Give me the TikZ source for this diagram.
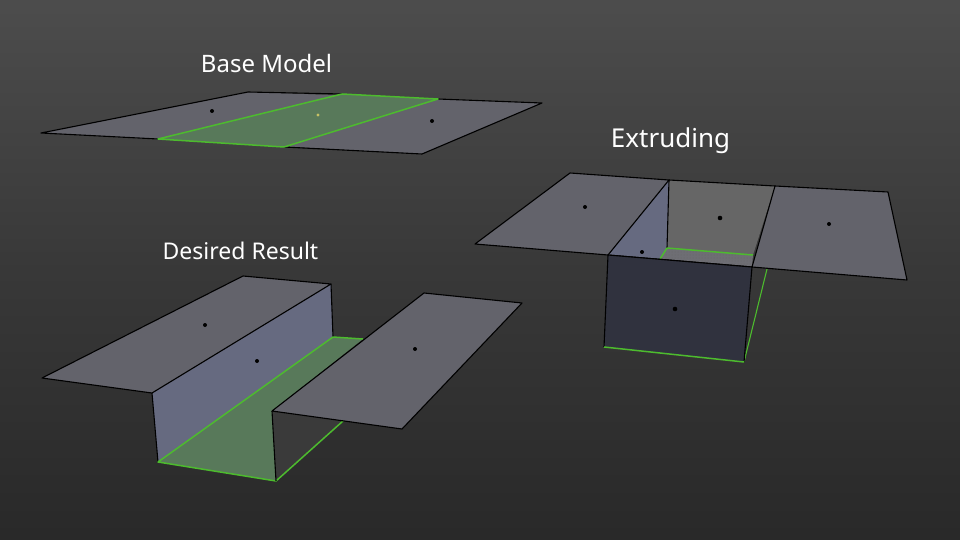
\documentclass[tikz,border=0pt]{standalone}
\usepackage{fontspec}
\setmainfont{Noto Sans}
\usepackage{xcolor}
\usetikzlibrary{patterns}
\definecolor{plategray}{HTML}{63636B}
\definecolor{wallblue}{HTML}{666A80}
\definecolor{wallgray}{HTML}{666666}
\definecolor{walldark}{HTML}{30323E}
\definecolor{wallback}{HTML}{3A3A3A}
\definecolor{floorgreen}{HTML}{58795A}
\definecolor{edgegreen}{HTML}{4DBB2E}
\definecolor{stipplegray}{HTML}{6E6E74}
\tikzset{
    face/.style={draw=black, line width=1.1pt, line join=round},
    greenedge/.style={draw=edgegreen, line width=1.5pt, line join=round},
    dot/.style={fill=black, circle, inner sep=0pt, minimum size=4pt},
    caption/.style={text=white, font=\fontsize{24}{27}\selectfont, inner sep=0pt}
}
\begin{document}
\begin{tikzpicture}[x=1pt, y=-1pt]
\useasboundingbox (0,0) rectangle (960,540);
\shade[top color=black!70, bottom color=black!84, middle color=black!78] (0,0) rectangle (960,540);

% base model
\fill[plategray] (41,133) -- (248,92) -- (542,103) -- (422,154) -- cycle;
\draw[face] (158,139) -- (41,133) -- (248,92) -- (342,94);
\draw[face] (438,99) -- (542,103) -- (422,154) -- (284,147);
\fill[floorgreen] (158,139) -- (342,94) -- (438,99) -- (284,147) -- cycle;
\draw[greenedge] (158,139) -- (342,94) -- (438,99) -- (284,147) -- cycle;
\node[dot] at (212,111) {};
\node[dot, fill=yellow!50!gray, minimum size=3.2pt] at (318,115) {};
\node[dot] at (432,121) {};
\node[caption] (basemodel) at (266.5,64) {Base Model};

% desired result
\fill[wallback] (272,411) -- (276,481) -- (343,421) -- cycle;
\fill[floorgreen] (158,462) -- (333,337) -- (363,339) -- (272,411) -- (276,481) -- cycle;
\fill[wallblue] (152,393) -- (331,284) -- (333,337) -- (158,462) -- cycle;
\draw[face, fill=plategray] (42,378) -- (243,276) -- (331,284) -- (152,393) -- cycle;
\draw[face] (152,393) -- (158,462);
\draw[face] (331,284) -- (333,337);
\draw[greenedge] (363,339) -- (333,337) -- (158,462) -- (276,481) -- (343,421);
\draw[face] (272,411) -- (276,481);
\draw[face, fill=plategray] (272,411) -- (424,293) -- (522,303) -- (402,429) -- cycle;
\node[dot] at (205,325) {};
\node[dot] at (257,361) {};
\node[dot] at (415,349) {};
\node[caption, font=\fontsize{23}{26}\selectfont] (desiredresult) at (240.5,251) {Desired Result};

% extruding
\draw[greenedge, line width=1.1pt] (744,362) -- (767,269);
\fill[wallgray] (669,180) -- (775,186) -- (753,255) -- (667,248) -- cycle;
\fill[wallblue] (608,255) -- (669,180) -- (667,248) -- (660,259) -- cycle;
\fill[stipplegray] (667,248) -- (753,255) -- (752,267) -- (660,259) -- cycle;
\fill[pattern=dots, pattern color=black!60] (667,248) -- (753,255) -- (752,267) -- (660,259) -- cycle;
\draw[face] (669,180) -- (667,248);
\draw[greenedge] (660,259) -- (667,248) -- (753,255);
\draw[face, fill=plategray] (475,244) -- (570,173) -- (669,180) -- (608,255) -- cycle;
\draw[face, fill=plategray] (775,186) -- (888,192) -- (907,280) -- (752,267) -- cycle;
\draw[face] (669,180) -- (775,186);
\draw[face] (608,255) -- (752,267);
\fill[walldark] (608,255) -- (752,267) -- (744,362) -- (604,347) -- cycle;
\draw[face] (604,347) -- (608,255) -- (752,267) -- (744,362);
\draw[greenedge] (604,347) -- (744,362);
\node[dot] at (585,207) {};
\node[dot, minimum size=4.6pt] at (720,218) {};
\node[dot] at (829,224) {};
\node[dot] at (642,252) {};
\node[dot, minimum size=4.6pt] at (675,309) {};
\node[caption, font=\fontsize{26}{29}\selectfont] (extruding) at (670.5,141) {Extruding};
\end{tikzpicture}
\end{document}
